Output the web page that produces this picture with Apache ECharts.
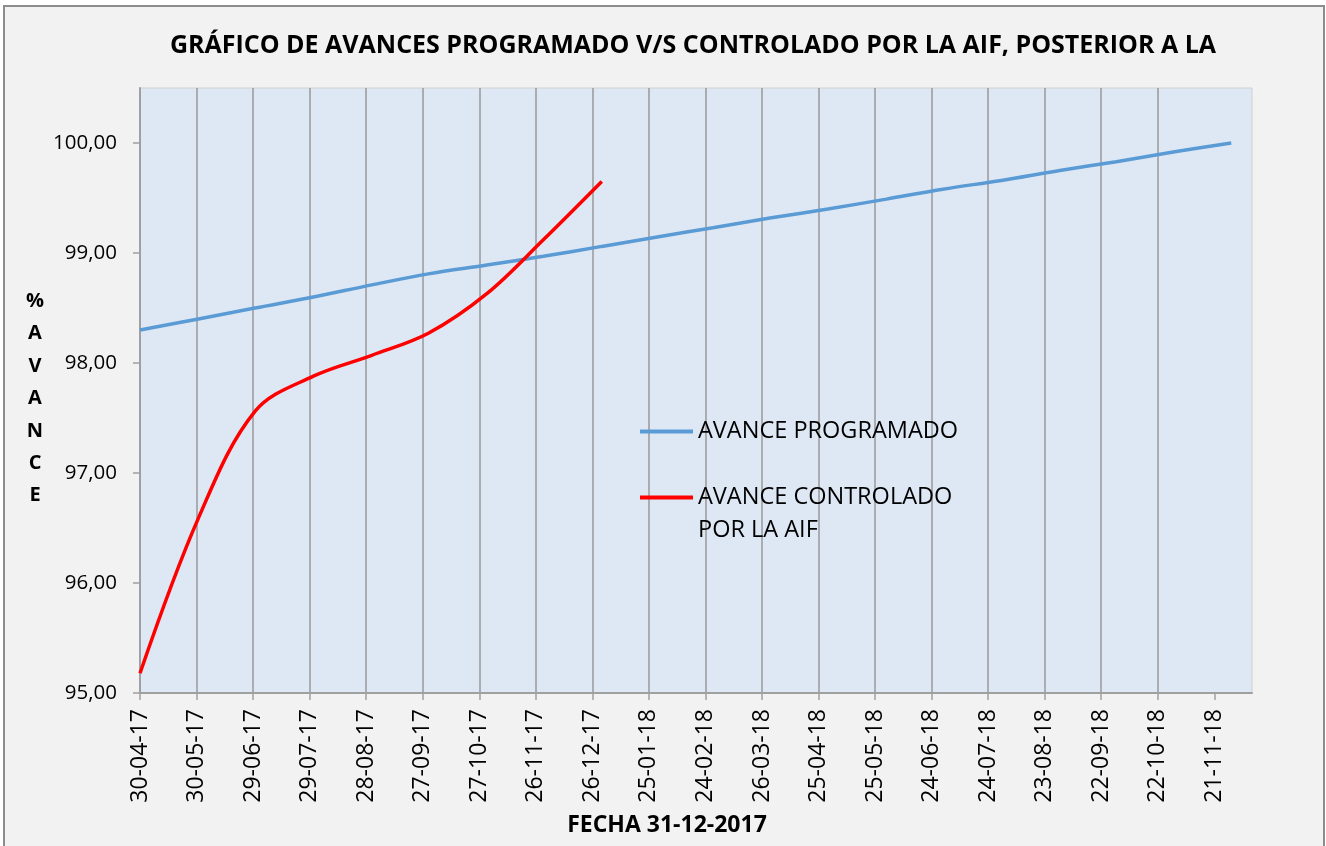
<!DOCTYPE html>
<html>
<head>
<meta charset="utf-8">
<title>Avance programado vs controlado</title>
<script src="https://cdn.jsdelivr.net/npm/echarts@6/dist/echarts.min.js"></script>
<style>
  html, body { margin: 0; padding: 0; background: #fff; }
  #chart { width: 1326px; height: 846px; }
</style>
</head>
<body>
<div id="chart"></div>
<script>
// datos (fechas de corte mensual)
const fechaInicio = '2017-04-30'
const diasEntreTicks = 30
const etiquetasX = ['30-04-17', '30-05-17', '29-06-17', '29-07-17', '28-08-17', '27-09-17', '27-10-17',
  '26-11-17', '26-12-17', '25-01-18', '24-02-18', '26-03-18', '25-04-18', '25-05-18', '24-06-18',
  '24-07-18', '23-08-18', '22-09-18', '22-10-18', '21-11-18']
const valoresY = [95, 96, 97, 98, 99, 100]

const fechasProgramado = ['2017-04-30', '2017-05-31', '2017-06-30', '2017-07-31', '2017-08-31', '2017-09-30',
  '2017-10-31', '2017-11-30', '2017-12-31', '2018-01-31', '2018-02-28', '2018-03-31', '2018-04-30',
  '2018-05-31', '2018-06-30', '2018-07-31', '2018-08-31', '2018-09-30', '2018-10-31', '2018-11-30']
const avanceProgramado = [98.30, 98.40, 98.50, 98.60, 98.71, 98.81, 98.89, 98.97, 99.06, 99.15,
  99.23, 99.32, 99.40, 99.49, 99.58, 99.66, 99.75, 99.83, 99.92, 100.00]

const fechasControlado = ['2017-04-30', '2017-05-31', '2017-06-30', '2017-07-31', '2017-08-31',
  '2017-09-30', '2017-10-31', '2017-11-30', '2017-12-31']
const avanceControlado = [95.18, 96.59, 97.56, 97.88, 98.07, 98.27, 98.63, 99.12, 99.65]

const DIA = 24 * 3600 * 1000
const dias = (f) => Math.round((Date.parse(f) - Date.parse(fechaInicio)) / DIA)
const pares = (fechas, valores) => fechas.map((f, i) => [dias(f), valores[i]])

const fuente = "'Open Sans', sans-serif"
const colorEje = '#A0A0A0'

const myChart = echarts.init(document.getElementById('chart'))

const option = {
  backgroundColor: '#ffffff',
  animation: false,
  graphic: [
    {
      type: 'rect',
      z: -10,
      shape: { x: 4, y: 6, width: 1320, height: 842 },
      style: { fill: '#F2F2F2', stroke: '#8C8C8C', lineWidth: 2 }
    }
  ],
  title: {
    text: 'GRÁFICO DE AVANCES PROGRAMADO V/S CONTROLADO POR LA AIF, POSTERIOR A LA',
    left: 693,
    top: 33,
    textAlign: 'center',
    padding: 0,
    textStyle: { fontFamily: fuente, fontWeight: 'bold', fontSize: 25, color: '#000' }
  },
  legend: [
    {
      orient: 'vertical',
      left: 635,
      top: 410,
      icon: 'rect',
      itemWidth: 53,
      itemHeight: 4,
      data: ['AVANCE PROGRAMADO'],
      textStyle: { fontFamily: fuente, fontSize: 23.5, color: '#000', lineHeight: 33 }
    },
    {
      orient: 'vertical',
      left: 635,
      top: 443,
      icon: 'rect',
      itemWidth: 53,
      itemHeight: 4,
      data: ['AVANCE CONTROLADO POR LA AIF'],
      // linea vacia arriba para que el icono quede a la altura de la primera linea
      formatter: () => ' \nAVANCE CONTROLADO\nPOR LA AIF',
      textStyle: { fontFamily: fuente, fontSize: 23.5, color: '#000', lineHeight: 33 }
    }
  ],
  grid: {
    left: 140,
    right: 74,
    top: 88,
    bottom: 153,
    show: true,
    backgroundColor: '#DEE8F4',
    borderColor: '#D0D0D0',
    borderWidth: 1
  },
  xAxis: {
    type: 'value',
    min: 0,
    max: 590,
    interval: diasEntreTicks,
    name: 'FECHA 31-12-2017',
    nameLocation: 'middle',
    nameGap: 132,
    nameTextStyle: {
      fontFamily: fuente, fontWeight: 'bold', fontSize: 23, color: '#000',
      verticalAlign: 'middle', padding: [0, 58, 0, 0]
    },
    axisLine: { show: true, lineStyle: { color: colorEje, width: 2 } },
    axisTick: {
      show: true, length: 7, lineStyle: { color: colorEje, width: 1.5 },
      customValues: etiquetasX.map((e, i) => i * diasEntreTicks)
    },
    axisLabel: {
      rotate: 90,
      margin: 16,
      fontFamily: fuente,
      fontSize: 23,
      color: '#000',
      customValues: etiquetasX.map((e, i) => i * diasEntreTicks),
      formatter: (v) => etiquetasX[Math.round(v / diasEntreTicks)] || ''
    },
    splitLine: { show: true, showMaxLine: false, lineStyle: { color: '#989898', width: 1.5 } }
  },
  yAxis: {
    type: 'value',
    min: 95,
    max: 100.5,
    interval: 1,
    name: '{s| }\n%\nA\nV\nA\nN\nC\nE',
    nameLocation: 'middle',
    nameRotate: 0,
    nameGap: 105,
    nameTextStyle: {
      fontFamily: fuente, fontWeight: 'bold', fontSize: 20, color: '#000',
      align: 'center', lineHeight: 32.4,
      rich: { s: { lineHeight: 16, fontSize: 10 } }
    },
    axisLine: { show: true, lineStyle: { color: colorEje, width: 2 } },
    axisTick: { show: true, length: 7, lineStyle: { color: colorEje, width: 1.5 }, customValues: valoresY },
    axisLabel: {
      margin: 23,
      fontFamily: fuente,
      fontSize: 20.5,
      color: '#000',
      customValues: valoresY,
      formatter: (v) => v.toFixed(2).replace('.', ',')
    },
    splitLine: { show: false }
  },
  series: [
    {
      name: 'AVANCE PROGRAMADO',
      type: 'line',
      symbol: 'none',
      smooth: 0.35,
      lineStyle: { color: '#5B9BD5', width: 3.5 },
      itemStyle: { color: '#5B9BD5' },
      data: pares(fechasProgramado, avanceProgramado)
    },
    {
      name: 'AVANCE CONTROLADO POR LA AIF',
      type: 'line',
      symbol: 'none',
      smooth: 0.35,
      lineStyle: { color: '#FF0000', width: 3.5 },
      itemStyle: { color: '#FF0000' },
      data: pares(fechasControlado, avanceControlado)
    }
  ]
}

myChart.setOption(option)
</script>
</body>
</html>
